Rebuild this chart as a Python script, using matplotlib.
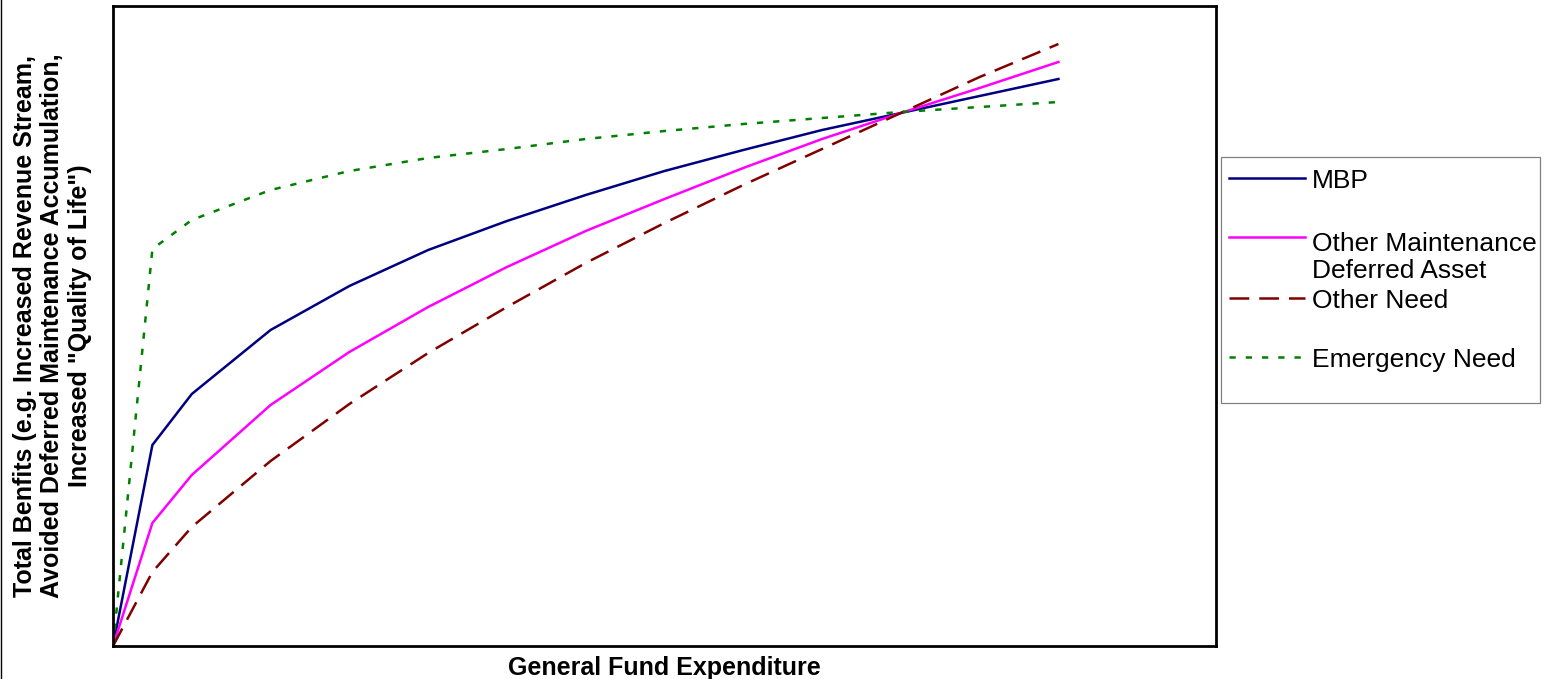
import matplotlib
matplotlib.use("Agg")
import matplotlib.pyplot as plt
from matplotlib.lines import Line2D
from matplotlib.patches import Rectangle

plt.rcParams['font.family'] = ['Liberation Sans', 'DejaVu Sans']

# spending steps (x) and benefit curves
spend = [0, 0.5, 1, 2, 3, 4, 5, 6, 7, 8, 9, 10, 11, 12]
mbp = [0, 201, 252, 316, 360, 396, 425, 451, 475, 496, 516, 533, 550, 567]
other_maint = [0, 123, 171, 241, 294, 339, 379, 415, 447, 478, 507, 533, 558, 584]
other_need = [0, 74, 119, 185, 242, 293, 339, 383, 423, 461, 497, 533, 569, 602]
emergency = [0, 397, 426, 456, 475, 488, 497, 507, 515, 522, 528, 534, 539, 544]

labels = ["MBP", "Other Maintenance\nDeferred Asset", "Other Need", "Emergency Need"]
colors = ["#000080", "#FF00FF", "#800000", "#008000"]
LW = 1.8
styles = ["-", "-", (0, (7.9, 4.0)), (0, (2.5, 4.0))]

W, H = 1544, 679
fig = plt.figure(figsize=(W / 100, H / 100), dpi=100)
ax = fig.add_axes([113 / W, 1 - 646 / H, (1216 - 113) / W, (646 - 6) / H])

series = [mbp, other_maint, other_need, emergency]
for vals, c, ls in zip(series, colors, styles):
    ax.plot(spend, vals, color=c, linestyle=ls, linewidth=LW, solid_joinstyle='miter')

ax.set_xlim(0, 14)
ax.set_ylim(0, 640)
ax.set_xticks([])
ax.set_yticks([])
for s in ax.spines.values():
    s.set_linewidth(2.0)

ax.set_xlabel("General Fund Expenditure", fontsize=18, fontweight='bold', labelpad=7)
ax.set_ylabel("Total Benfits (e.g. Increased Revenue Stream,\n"
              "Avoided Deferred Maintenance Accumulation,\n"
              "Increased \"Quality of Life\")",
              fontsize=18, fontweight='bold', labelpad=15, linespacing=1.2)

# legend box, drawn by hand to keep the Excel-like spacing
def fx(px):
    return px / W

def fy(py):
    return 1 - py / H

fig.add_artist(Rectangle((fx(1221), fy(403)), fx(1540) - fx(1221), fy(157) - fy(403),
                         transform=fig.transFigure, fill=False, edgecolor='#808080', linewidth=0.9))
handle_y = [178, 237, 298, 357]
# baseline of the last line of each label
text_y = [188, 278, 308, 367]
for lab, c, ls, hy, ty in zip(labels, colors, styles, handle_y, text_y):
    fig.add_artist(Line2D([fx(1229), fx(1305)], [fy(hy), fy(hy)], transform=fig.transFigure,
                          color=c, linestyle=ls, linewidth=LW))
    fig.text(fx(1312), fy(ty), lab, fontsize=19, va='baseline', ha='left', linespacing=1.17)

# thin frame line on the left edge of the image
fig.add_artist(Line2D([0.6 / W, 0.6 / W], [0, 1], transform=fig.transFigure, color='black', linewidth=1))

fig.savefig("out.png", dpi=100)
